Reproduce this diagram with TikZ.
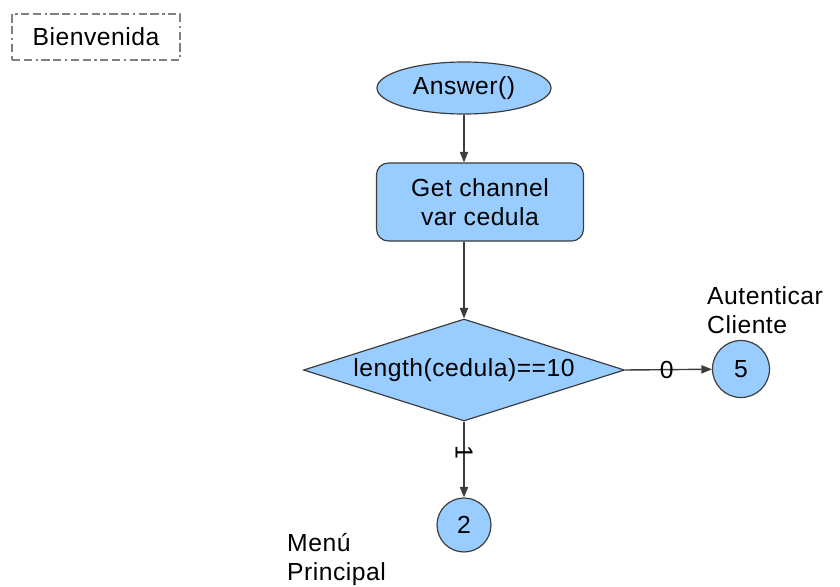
\documentclass[tikz,border=0pt]{standalone}
\usepackage{fontspec}
\setmainfont{Liberation Sans}[LetterSpace=2]
\usepackage{tikz}
\usetikzlibrary{arrows.meta, shapes.geometric, positioning, calc}
\definecolor{boxblue}{HTML}{99CCFF}
\definecolor{edgegray}{HTML}{3C3C3C}

\begin{document}
\begin{tikzpicture}[x=0.85pt, y=-0.85pt, font=\fontsize{21}{25}\selectfont,
	block/.style={draw=edgegray, fill=boxblue, line width=1pt},
	flow/.style={-{Triangle[length=9pt, width=7pt]}, line width=1.2pt, edgegray}]
	\useasboundingbox (0,0) rectangle (840,587);
	%% title box
	\node[draw=gray, line width=1.2pt, dash pattern=on 7pt off 3pt on 7pt off 3pt on 2pt off 3pt, minimum width=168*0.85pt, minimum height=46*0.85pt] (bienvenida) at (96,37) {Bienvenida};
	%% flow chart
	\node[block, ellipse, minimum width=174*0.85pt, minimum height=52*0.85pt] (answer) at (464,88) {Answer()};
	\node[block, rounded corners=10pt, minimum width=207*0.85pt, minimum height=78*0.85pt, align=center] (getch) at (480,202) {Get channel\\ var cedula};
	\node[block, diamond, aspect=3.15, minimum width=321*0.85pt, minimum height=102*0.85pt, inner sep=0pt] (cond) at (464,370) {length(cedula)==10};
	\node[block, circle, minimum size=57*0.85pt, inner sep=0pt] (five) at (741,369) {5};
	\node[block, circle, minimum size=54*0.85pt, inner sep=0pt] (two) at (464,525) {2};
	%% connectors
	\draw[flow] (answer) -- (getch.north -| answer.south);
	\draw[flow] (getch.south -| answer.south) -- (cond.north);
	\draw[flow] (cond.east) -- node[pos=0.48, inner sep=0pt, black] {0} (five);
	\draw[flow] (cond.south) -- node[pos=0.4, rotate=-90, inner sep=0pt, black] {1} (two);
	%% page labels
	\node[align=left, anchor=south west, inner sep=0pt] (autlabel) at (707,334) {Autenticar\\ Cliente};
	\node[align=left, anchor=north west, inner sep=0pt] (menulabel) at (287,533) {Menú\\ Principal};
\end{tikzpicture}
\end{document}
